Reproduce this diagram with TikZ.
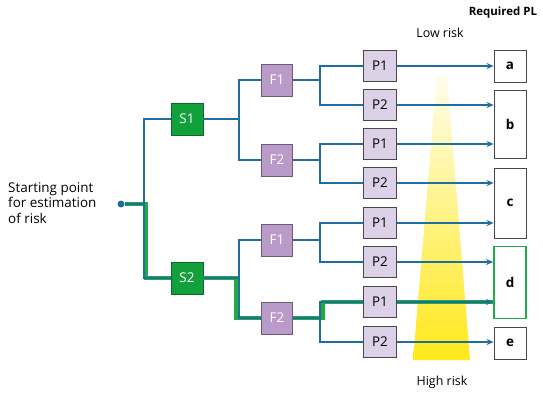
\documentclass[tikz,border=0pt]{standalone}
\usepackage{fontspec}
\setmainfont{Open Sans}
\usepackage{xcolor}
\usetikzlibrary{
  arrows.meta,
  positioning
}
\definecolor{plblue}    {HTML}{1F6E9E}
\definecolor{plgreen}   {HTML}{12A03C}
\definecolor{pldkgreen} {HTML}{0B6B2A}
\definecolor{plpath}    {HTML}{22AA46}
\definecolor{plviolet}  {HTML}{B99AC9}
\definecolor{plvioletdk}{HTML}{6E5A7A}
\definecolor{pllilac}   {HTML}{DDD1E7}
\definecolor{plgrey}    {HTML}{4A4650}
\definecolor{plyellow}  {HTML}{FFE81A}

\begin{document}
\begin{tikzpicture}[
  x=1bp, y=-1bp,
  every node/.style={font=\fontsize{13.5}{15.5}\selectfont},
  box/.style={
    rectangle, draw, thick, minimum width=32bp, minimum height=32bp,
    inner sep=0pt, text centered
  },
  sbox/.style={box, fill=plgreen, draw=pldkgreen, text=white},
  fbox/.style={box, fill=plviolet, draw=plvioletdk, text=white, minimum width=31bp},
  pbox/.style={box, fill=pllilac, draw=plgrey, minimum width=33bp, minimum height=31bp},
  plbox/.style={box, fill=white, draw=plgrey, font=\fontsize{13.5}{15.5}\selectfont\bfseries},
  link/.style={draw=plblue, line width=1.3bp},
  arr/.style={link, -{Stealth[length=7bp, width=6bp]}},
  chosen/.style={draw=plpath, line width=4.5bp}
]
\useasboundingbox (0,0) rectangle (543,392);

% Risk wedge
\shade[top color=plyellow!8, bottom color=plyellow]
  (437,75) -- (447,75) -- (470,360) -- (413,360) -- cycle;

% Headings
\node[font=\fontsize{11.5}{13}\selectfont\bfseries] (reqpl) at (503,13) {Required PL};
\node[font=\fontsize{12.5}{14}\selectfont] (low) at (440,33) {Low risk};
\node[font=\fontsize{12.5}{14}\selectfont] (high) at (442,382) {High risk};

% Start
\node[align=left, anchor=west, inner sep=0pt] (starttext) at (8,203)
  {Starting point\\for estimation\\of risk};
\node[circle, fill=plblue, inner sep=0pt, minimum size=7bp] (start) at (121,204) {};

% Severity
\node[sbox] (s1) at (187,119) {S1};
\node[sbox] (s2) at (187,278) {S2};

% Frequency
\node[fbox] (f11) at (277,80) {F1};
\node[fbox] (f12) at (277,160) {F2};
\node[fbox] (f21) at (277,240) {F1};
\node[fbox] (f22) at (277,318) {F2};

% Possibility of avoidance
\node[pbox] (p1) at (380,66) {P1};
\node[pbox] (p2) at (380,105) {P2};
\node[pbox] (p3) at (380,144) {P1};
\node[pbox] (p4) at (380,183) {P2};
\node[pbox] (p5) at (380,223) {P1};
\node[pbox] (p6) at (380,262) {P2};
\node[pbox] (p7) at (380,302) {P1};
\node[pbox] (p8) at (380,342) {P2};

% Required PL
\node[plbox] (ra) at (510,66) {a};
\node[plbox, minimum height=68bp] (rb) at (510,124) {b};
\node[plbox, minimum height=70bp] (rc) at (510,203) {c};
\node[plbox, minimum height=72bp, draw=plpath, line width=1.8bp] (rd) at (510,282.5) {d};
\node[plbox] (re) at (510,343) {e};

% Junctions
\coordinate (j0) at (144,204);
\coordinate (js1) at (239,119);
\coordinate (js2) at (239,278);
\coordinate (jf11) at (320,80);
\coordinate (jf12) at (320,160);
\coordinate (jf21) at (320,240);
\coordinate (jf22) at (320,318);

% Chosen path
\draw[chosen] (start) -- (146,204) -- (146,278) -- (s2);
\draw[chosen] (s2) -- (236,278) -- (236,318) -- (f22);
\draw[chosen] (f22) -- (323,318) -- (323,302) -- (p7);
\draw[chosen] (p7) -- (p7 -| rd.west);

% Tree
\draw[link] (start) -- (j0);
\draw[link] (s1) -| (j0) |- (s2);
\draw[link] (s1) -- (js1) |- (f11);
\draw[link] (js1) |- (f12);
\draw[link] (s2) -- (js2) |- (f21);
\draw[link] (js2) |- (f22);
\draw[link] (f11) -- (jf11) |- (p1);
\draw[link] (jf11) |- (p2);
\draw[link] (f12) -- (jf12) |- (p3);
\draw[link] (jf12) |- (p4);
\draw[link] (f21) -- (jf21) |- (p5);
\draw[link] (jf21) |- (p6);
\draw[link] (f22) -- (jf22) |- (p7);
\draw[link] (jf22) |- (p8);

% Arrows
\draw[arr] (p1) -- (p1 -| ra.west);
\draw[arr] (p2) -- (p2 -| rb.west);
\draw[arr] (p3) -- (p3 -| rb.west);
\draw[arr] (p4) -- (p4 -| rc.west);
\draw[arr] (p5) -- (p5 -| rc.west);
\draw[arr] (p6) -- (p6 -| rd.west);
\draw[arr] (p7) -- (p7 -| rd.west);
\draw[arr] (p8) -- (p8 -| re.west);

\end{tikzpicture}
\end{document}
